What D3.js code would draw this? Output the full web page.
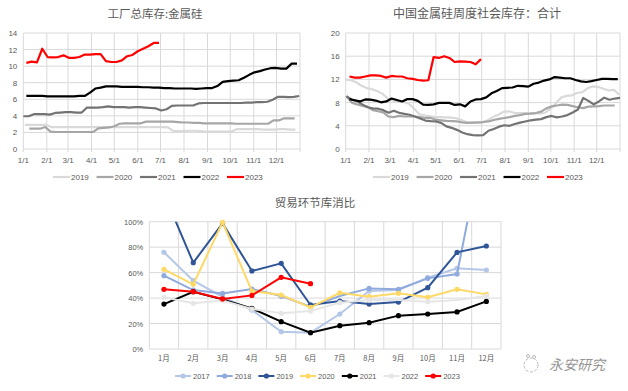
<!DOCTYPE html>
<html>
<head>
<meta charset="utf-8">
<script src="https://cdn.jsdelivr.net/npm/d3@7"></script>
<style>
body{margin:0;background:#fff;}
svg{display:block;font-family:"Liberation Sans","Noto Sans CJK SC",sans-serif;}
.cn{font-family:"Noto Sans CJK SC",sans-serif;}
</style>
</head>
<body>
<svg id="svg0" width="628" height="391"></svg>
<script>
// ---- data ----
var years5 = ['2019', '2020', '2021', '2022', '2023'];
var years7 = ['2017', '2018', '2019', '2020', '2021', '2022', '2023'];
var monthTicks = ['1/1', '2/1', '3/1', '4/1', '5/1', '6/1', '7/1', '8/1', '9/1', '10/1', '11/1', '12/1'];
var monthCats = ['1月', '2月', '3月', '4月', '5月', '6月', '7月', '8月', '9月', '10月', '11月', '12月'];

// 工厂总库存 weekly (start = day of year of first week)
var tlStart = [2, 8, 0, 4, 4];
var tl2019 = [2.9,2.9,2.9,2.9,2.9,2.65,2.65,2.65,2.65,2.65,2.65,2.65,2.65,2.65,2.65,2.65,2.65,2.65,2.65,2.65,2.65,2.65,2.65,2.65,2.65,2.65,2.65,2.6,2.15,2.15,2.15,2.2,2.2,2.15,2.1,2.1,2.1,2.1,2.1,2.1,2.4,2.4,2.4,2.4,2.4,2.35,2.35,2.35,2.4,2.4,2.35,2.35];
var tl2020 = [2.45,2.45,2.45,2.65,2.1,2.05,2.05,2.05,2.05,2.05,2.05,2.05,2.05,2.5,2.55,2.6,2.75,3.05,3.1,3.1,3.1,3.1,3.3,3.3,3.3,3.3,3.3,3.3,3.25,3.2,3.2,3.15,3.15,3.1,3.1,3.1,3.1,3.1,3.1,3.05,3.05,3.05,3.05,3.05,3.05,3.05,3.45,3.45,3.7,3.7,3.7];
var tl2021 = [3.95,3.95,4.2,4.2,4.2,4.15,4.35,4.4,4.45,4.45,4.4,4.4,5.0,5.0,5.0,5.05,5.15,5.05,5.05,5.05,5.0,5.05,5.05,5.0,4.95,4.9,4.65,4.8,5.2,5.25,5.25,5.25,5.25,5.5,5.55,5.55,5.55,5.55,5.55,5.55,5.55,5.55,5.6,5.6,5.65,5.65,5.7,5.95,6.3,6.3,6.25,6.3,6.4];
var tl2022 = [6.4,6.4,6.4,6.4,6.35,6.35,6.35,6.35,6.35,6.35,6.4,6.4,6.8,7.3,7.4,7.55,7.55,7.55,7.5,7.5,7.5,7.5,7.45,7.45,7.4,7.4,7.35,7.35,7.3,7.3,7.3,7.3,7.25,7.3,7.35,7.35,7.6,8.1,8.2,8.25,8.3,8.6,8.95,9.25,9.4,9.6,9.75,9.8,9.7,9.7,10.3,10.3];
var tl2023 = [10.4,10.55,10.45,12.1,11.1,11.05,11.1,11.3,11.0,11.0,11.1,11.4,11.4,11.45,11.45,10.6,10.5,10.5,10.7,11.2,11.35,11.8,12.1,12.4,12.8,12.8];

// 中国金属硅周度社会库存 weekly
var trStart = [0, 1, 1, 5, 5];
var tr2019 = [11.95,11.85,11.5,10.9,10.5,10.3,10.0,9.5,8.7,8.35,8.2,8.1,7.8,7.0,6.0,5.8,5.65,5.5,5.5,5.45,5.4,5.3,5.0,4.6,4.5,4.5,4.6,4.95,5.5,5.9,6.4,6.5,6.25,6.2,6.2,6.2,6.2,6.1,6.3,7.0,7.95,8.9,9.15,9.25,9.65,9.8,10.5,10.8,10.7,10.4,10.1,10.2,9.35];
var tr2020 = [9.1,8.0,7.7,7.45,7.3,6.7,6.5,6.3,5.6,5.5,5.7,5.6,5.6,5.6,5.5,5.35,5.35,5.05,4.95,4.85,4.8,4.75,4.6,4.5,4.55,4.6,4.65,4.75,5.0,5.2,5.35,5.5,5.7,5.85,6.05,6.1,6.2,6.45,7.0,7.35,7.5,7.65,7.6,7.4,7.2,7.05,7.3,7.35,7.4,7.5,7.5,7.5];
var tr2021 = [9.1,8.5,8.25,7.7,7.2,7.0,6.95,6.7,6.25,6.6,6.25,6.05,5.9,5.6,5.25,4.9,4.8,4.75,4.5,3.9,3.65,3.3,2.85,2.55,2.4,2.35,2.4,3.15,3.45,3.85,4.1,4.0,4.3,4.55,4.75,4.95,5.05,5.15,5.5,5.7,5.45,5.6,5.85,6.3,6.8,8.8,8.3,7.7,8.2,8.85,8.5,8.7,8.8];
var tr2022 = [8.6,8.4,8.2,8.55,8.5,8.35,8.05,8.2,8.7,8.45,8.2,8.6,8.6,8.3,7.65,7.6,7.7,7.95,7.95,7.95,7.6,7.7,7.35,8.2,8.55,8.6,8.9,9.6,10.0,10.5,10.55,10.6,10.9,10.85,10.75,11.25,11.45,11.8,12.0,12.4,12.3,12.2,12.2,11.9,11.65,11.55,11.7,11.9,12.1,12.1,12.05,12.05];
var tr2023 = [12.5,12.3,12.3,12.5,12.7,12.7,12.6,12.3,12.6,12.5,12.5,12.2,12.1,11.9,11.8,11.85,15.85,15.7,16.0,15.7,15.0,15.1,15.05,15.0,14.6,15.5];

// 贸易环节库消比 monthly
var b2017 = [0.76,0.537,0.41,0.306,0.136,0.128,0.275,0.455,0.463,0.56,0.634,0.62];
var b2018 = [0.576,0.463,0.437,0.471,0.416,0.332,0.416,0.476,0.469,0.555,0.589,1.75];
var b2019 = [1.22,0.678,0.987,0.613,0.673,0.346,0.377,0.353,0.369,0.482,0.759,0.809];
var b2020 = [0.626,0.508,0.995,0.455,0.424,0.327,0.442,0.411,0.437,0.406,0.469,0.429];
var b2021 = [0.353,0.45,0.39,0.319,0.215,0.128,0.183,0.207,0.262,0.275,0.291,0.374];
var b2022 = [0.406,0.359,0.38,0.314,0.28,0.298,0.364,0.385,0.385,0.372,0.385,0.416];
var b2023 = [0.469,0.45,0.393,0.421,0.563,0.513];

var grayColors = ['#d9d9d9', '#a6a6a6', '#737373', '#000000', '#ff0000'];
var blueColors = ['#b4c7e7', '#8faadc', '#2f5597', '#ffd966', '#000000', '#e7e6e6', '#ff0000'];

var gridColor = '#d9d9d9';
var textColor = '#595959';

var svg = d3.select('#svg0');
svg.append('rect').attr('width', 628).attr('height', 391).attr('fill', '#fff');

// ---- weekly line chart (top two) ----
function weeklyChart(opt) {
    var g = svg.append('g');
    var x = d3.scaleTime()
        .domain([new Date(2021, 0, 1), new Date(2022, 0, 1)])
        .range([opt.left, opt.right]);
    var y = d3.scaleLinear()
        .domain([0, opt.max])
        .range([opt.bottom, opt.top]);

    var months = d3.timeMonth.range(new Date(2021, 0, 1), new Date(2022, 0, 2));

    // grid
    g.selectAll('.vg')
        .data(months)
        .enter()
        .append('line')
        .attr('x1', function(d){ return x(d); })
        .attr('x2', function(d){ return x(d); })
        .attr('y1', opt.top)
        .attr('y2', opt.bottom + 3)
        .attr('stroke', gridColor)
        .attr('stroke-width', 1);

    var yt = d3.range(0, opt.max + 0.001, opt.step);
    g.selectAll('.hg')
        .data(yt)
        .enter()
        .append('line')
        .attr('x1', opt.left)
        .attr('x2', opt.right)
        .attr('y1', function(d){ return y(d); })
        .attr('y2', function(d){ return y(d); })
        .attr('stroke', gridColor)
        .attr('stroke-width', 1);

    g.selectAll('.yl')
        .data(yt)
        .enter()
        .append('text')
        .attr('x', opt.left - 6)
        .attr('y', function(d){ return y(d) + 3; })
        .attr('text-anchor', 'end')
        .attr('font-size', 8)
        .attr('fill', textColor)
        .text(function(d){ return d; });

    g.selectAll('.xl')
        .data(months.slice(0, 12))
        .enter()
        .append('text')
        .attr('x', function(d){ return x(d); })
        .attr('y', opt.bottom + 14)
        .attr('text-anchor', 'middle')
        .attr('font-size', 8)
        .attr('fill', textColor)
        .text(function(d, i){ return monthTicks[i]; });

    var line = d3.line()
        .x(function(d){ return x(d.date); })
        .y(function(d){ return y(d.v); });

    opt.series.forEach(function(s, k){
        var pts = s.map(function(v, i){
            return {date: new Date(2021, 0, 1 + opt.starts[k] + 7 * i), v: v};
        });
        g.append('path')
            .attr('d', line(pts))
            .attr('fill', 'none')
            .attr('stroke', grayColors[k])
            .attr('stroke-width', 2.2)
            .attr('stroke-linejoin', 'round');
    });

    // title
    g.append('text')
        .attr('class', 'cn')
        .attr('x', opt.titleX)
        .attr('y', 18)
        .attr('text-anchor', 'middle')
        .attr('font-size', opt.titleSize)
        .attr('fill', textColor)
        .text(opt.title);

    // legend
    years5.forEach(function(yr, i){
        var lx = opt.legendX + i * 43.5;
        g.append('line')
            .attr('x1', lx).attr('x2', lx + 17)
            .attr('y1', 177).attr('y2', 177)
            .attr('stroke', grayColors[i])
            .attr('stroke-width', 2.2);
        g.append('text')
            .attr('x', lx + 18)
            .attr('y', 180)
            .attr('font-size', 8)
            .attr('fill', textColor)
            .text(yr);
    });
}

weeklyChart({
    left: 23.3, right: 300, top: 33, bottom: 149, max: 14, step: 2,
    series: [tl2019, tl2020, tl2021, tl2022, tl2023], starts: tlStart,
    title: '工厂总库存:金属硅', titleX: 155, titleSize: 11.5, legendX: 53
});

weeklyChart({
    left: 345.7, right: 620, top: 33, bottom: 149, max: 20, step: 4,
    series: [tr2019, tr2020, tr2021, tr2022, tr2023], starts: trStart,
    title: '中国金属硅周度社会库存：合计', titleX: 477, titleSize: 12, legendX: 373
});

// ---- monthly chart (bottom) ----
var bLeft = 149.3, bRight = 501, bTop = 221.7, bBottom = 349;
var bx = d3.scaleBand().domain(monthCats).range([bLeft, bRight]);
var by = d3.scaleLinear().domain([0, 1]).range([bBottom, bTop]);
var gb = svg.append('g');

gb.append('clipPath')
    .attr('id', 'bclip')
    .append('rect')
    .attr('x', bLeft).attr('y', bTop)
    .attr('width', bRight - bLeft).attr('height', bBottom - bTop);

var bEdges = monthCats.map(function(m){ return bx(m); }).concat([bRight]);
gb.selectAll('.vg')
    .data(bEdges)
    .enter()
    .append('line')
    .attr('x1', function(d){ return d; })
    .attr('x2', function(d){ return d; })
    .attr('y1', bTop)
    .attr('y2', bBottom)
    .attr('stroke', gridColor);

var bTicks = d3.range(0, 1.001, 0.2);
gb.selectAll('.hg')
    .data(bTicks)
    .enter()
    .append('line')
    .attr('x1', bLeft)
    .attr('x2', bRight)
    .attr('y1', function(d){ return by(d); })
    .attr('y2', function(d){ return by(d); })
    .attr('stroke', gridColor);

gb.selectAll('.yl')
    .data(bTicks)
    .enter()
    .append('text')
    .attr('x', bLeft - 6)
    .attr('y', function(d){ return by(d) + 3; })
    .attr('text-anchor', 'end')
    .attr('font-size', 7.5)
    .attr('fill', textColor)
    .text(d3.format('.0%'));

gb.selectAll('.xl')
    .data(monthCats)
    .enter()
    .append('text')
    .attr('class', 'cn')
    .attr('x', function(d){ return bx(d) + bx.bandwidth() / 2; })
    .attr('y', 361)
    .attr('text-anchor', 'middle')
    .attr('font-size', 7.5)
    .attr('fill', textColor)
    .text(function(d){ return d; });

var bline = d3.line()
    .x(function(d, i){ return bx(monthCats[i]) + bx.bandwidth() / 2; })
    .y(function(d){ return by(d); });

[b2017, b2018, b2019, b2020, b2021, b2022, b2023].forEach(function(s, k){
    gb.append('path')
        .attr('d', bline(s))
        .attr('fill', 'none')
        .attr('stroke', blueColors[k])
        .attr('stroke-width', 2)
        .attr('clip-path', 'url(#bclip)');
    gb.selectAll('.m' + k)
        .data(s)
        .enter()
        .filter(function(d){ return d <= 1.02; })
        .append('circle')
        .attr('cx', function(d){ return bx(monthCats[s.indexOf(d)]) + bx.bandwidth() / 2; })
        .attr('cy', function(d){ return by(d); })
        .attr('r', 2.6)
        .attr('fill', blueColors[k]);
});

gb.append('text')
    .attr('class', 'cn')
    .attr('x', 315)
    .attr('y', 207)
    .attr('text-anchor', 'middle')
    .attr('font-size', 11.5)
    .attr('fill', textColor)
    .text('贸易环节库消比');

years7.forEach(function(yr, i){
    var lx = 175 + i * 41.7;
    gb.append('line')
        .attr('x1', lx).attr('x2', lx + 16)
        .attr('y1', 376).attr('y2', 376)
        .attr('stroke', blueColors[i])
        .attr('stroke-width', 2);
    gb.append('circle')
        .attr('cx', lx + 8).attr('cy', 376)
        .attr('r', 2.6)
        .attr('fill', blueColors[i]);
    gb.append('text')
        .attr('x', lx + 18)
        .attr('y', 379)
        .attr('font-size', 7.5)
        .attr('fill', textColor)
        .text(yr);
});

// watermark
var wm = svg.append('g').attr('opacity', 0.8);
wm.append('circle')
    .attr('cx', 531).attr('cy', 365).attr('r', 7)
    .attr('fill', 'none')
    .attr('stroke', '#aaa')
    .attr('stroke-dasharray', '3,1.5');
wm.append('circle').attr('cx', 528).attr('cy', 356).attr('r', 1.5).attr('fill', 'none').attr('stroke', '#aaa');
wm.append('circle').attr('cx', 534).attr('cy', 357).attr('r', 1.5).attr('fill', 'none').attr('stroke', '#aaa');
wm.append('text')
    .attr('class', 'cn')
    .attr('x', 549)
    .attr('y', 370)
    .attr('font-size', 14)
    .attr('font-style', 'italic')
    .attr('fill', '#7a7a7a')
    .text('永安研究');
</script>
</body>
</html>
